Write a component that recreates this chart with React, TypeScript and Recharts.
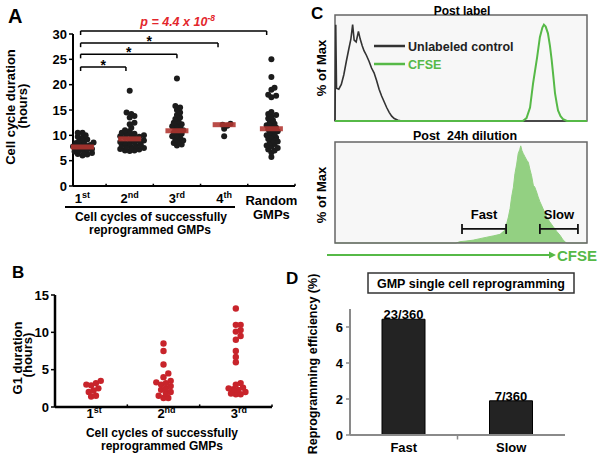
import React from 'react';
import {
  ScatterChart, Scatter, XAxis, YAxis, ReferenceLine, LineChart, Line,
  AreaChart, Area, BarChart, Bar, LabelList, CartesianGrid, ReferenceArea,
} from 'recharts';

const FONT = '"Liberation Sans", Arial, Helvetica, sans-serif';
const GREEN = '#56b947';
const GREEN_FILL = '#93d082';
const P_RED = '#e3262c';
const DOT_RED = '#c8242b';
const MEAN_RED = '#b0342f';
const DOT_BLACK = '#1c1c1c';
const AXIS_GRAY = '#8a8a8a';

// ---------------- Panel A: cell cycle duration (hours) ----------------
const cycleCategories = ['1st', '2nd', '3rd', '4th', 'Random GMPs'];
const cycle1st = [10.5, 10.5, 10.0, 9.7, 9.5, 9.2, 9.0, 8.8, 8.6, 8.5, 8.3, 8.1, 8.0, 7.8, 7.7, 7.5, 7.3, 7.2, 7.0, 6.8, 6.7, 6.5, 6.3, 6.2, 6.0];
const cycle2nd = [18.8, 14.5, 14.2, 13.8, 13.5, 12.5, 12.2, 11.5, 11.0, 10.8, 10.5, 10.3, 10.2, 10.0, 9.9, 9.8, 9.7, 9.5, 9.4, 9.2, 9.0, 8.9, 8.7, 8.6, 8.5, 8.4, 8.2, 8.0, 7.9, 7.8, 7.6, 7.5, 7.3, 7.2, 7.0, 7.0, 6.9];
const cycle3rd = [21.2, 15.8, 15.5, 15.0, 14.5, 14.0, 13.5, 13.2, 12.8, 12.5, 12.2, 12.0, 11.8, 11.5, 11.2, 11.0, 10.8, 10.5, 10.3, 10.0, 9.8, 9.5, 9.2, 9.0, 8.7, 8.5, 8.2, 8.0];
const cycle4th = [12.3, 12.1, 11.9, 11.3, 9.8];
const cycleRandom = [25.0, 21.5, 19.4, 19.0, 18.0, 17.8, 17.5, 14.6, 14.2, 14.0, 13.7, 13.3, 13.0, 12.6, 12.3, 12.0, 11.8, 11.5, 11.2, 11.0, 10.8, 10.5, 10.2, 10.0, 9.8, 9.5, 9.3, 9.0, 8.8, 8.5, 8.3, 8.0, 7.8, 7.5, 7.2, 7.0, 6.6, 5.7];
const cycleMeans = [7.7, 9.3, 10.9, 12.1, 11.3];
const cycleTicks = [0, 5, 10, 15, 20, 25, 30];
const cycleBoundaries = [1.5, 2.5, 3.5, 4.5, 5.5];
const bracketFrom = 0.96;
const bracketTo = [1.92, 3.0, 3.87, 4.9];
const bracketLevel = [23.5, 26.0, 28.2, 30.6];
const bracketMarks = ['*', '*', '*', 'p'];
const pValueBase = 'p = 4.4 x 10';
const pValueExp = '-8';

// ---------------- Panel B: G1 duration (hours) ----------------
const g1Categories = ['1st', '2nd', '3rd'];
const g1First = [3.5, 3.2, 3.0, 2.9, 2.5, 2.2, 2.0, 1.5, 1.4];
const g1Second = [8.5, 7.5, 5.7, 4.5, 4.0, 3.5, 3.3, 3.2, 3.0, 2.8, 2.5, 2.3, 2.0, 1.8, 1.5, 1.2, 1.2];
const g1Third = [13.2, 11.0, 11.0, 10.3, 10.1, 9.5, 9.0, 7.5, 6.7, 6.0, 3.2, 3.0, 2.6, 2.5, 2.4, 2.3, 2.0, 1.8, 1.7, 1.7];
const g1Ticks = [0, 5, 10, 15];
const g1Boundaries = [1.5, 2.5, 3.5];

// ---------------- Panel C: CFSE histograms ----------------
const ctrlChannel = [0, 0.3, 0.6, 1.5, 2.5, 3.5, 4.5, 5.5, 6.3, 7.0, 7.6, 8.4, 9.3, 10.0, 10.8, 11.5, 12.5, 13.5, 14.5, 15.5, 16.5, 17.5, 18.5, 19.5, 20.5, 21.5, 22.5, 23.5, 25.0, 26.5, 100];
const ctrlPercent = [0, 100, 34, 33, 38, 48, 62, 75, 85, 100, 84, 82, 93, 85, 78, 73, 68, 62, 55, 50, 42, 33, 26, 20, 14, 9, 5, 2.5, 0.8, 0, 0];
const cfseChannel = [0, 74.5, 76.0, 77.4, 78.6, 80.2, 81.3, 82.3, 82.9, 83.6, 84.5, 85.3, 86.0, 86.7, 87.3, 88.0, 88.5, 89.5, 90.5, 92.0, 100];
const cfsePercent = [0, 0, 3, 14, 39, 66, 87, 97, 100, 98, 91, 78, 63, 45, 29, 18, 11, 5, 2, 0, 0];
const dilChannel = [0, 48, 49.6, 52, 54.9, 57.5, 60.2, 63, 65.5, 67.5, 68.8, 69.5, 70.1, 70.8, 71.4, 72.1, 72.7, 73.3, 73.7, 74.2, 74.7, 75.3, 76.1, 76.7, 77.4, 78.0, 78.7, 79.3, 80.0, 80.6, 81.3, 82.5, 84.0, 85.2, 86.6, 88.0, 89.3, 90.3, 91.3, 92.0, 100];
const dilPercent = [0, 0, 1.4, 2, 3, 4.5, 6, 7.5, 9, 13.5, 27, 36, 48, 58, 72, 82, 93, 97, 101, 96, 93, 90, 86, 84, 76, 70, 60, 58, 53, 48, 43, 36, 27, 22, 17, 12, 8, 4, 1, 0, 0];
const histTicks = [0, 5, 10, 15, 20, 25, 30, 35, 40, 45, 50, 55, 60, 65, 70, 75, 80, 85, 90, 95, 100, 105];
const gateNames = ['Fast', 'Slow'];
const gateFrom = [50.4, 81.3];
const gateTo = [67.9, 96.4];
const gateLevel = 14.6;
const legendNames = ['Unlabeled control', 'CFSE'];

// ---------------- Panel D: reprogramming efficiency ----------------
const effCategories = ['Fast', 'Slow'];
const effValues = [6.43, 1.9];
const effLabels = ['23/360', '7/360'];
const effTicks = [0, 2, 4, 6];
const effBoundaries = [0.5, 1.5, 2.5];

// ---------- layout ----------
const A = { w: 300, h: 240, m: { top: 34, right: 5, bottom: 44, left: 43 }, yw: 30, xh: 10, xd: [0.853, 5.5] as [number, number] };
const B = { w: 300, h: 219, m: { top: 55, right: 28, bottom: 42, left: 30 }, yw: 25, xh: 10, xd: [0.5, 3.5] as [number, number] };

// deterministic beeswarm layout (dot collision avoidance in pixel space)
function swarm(values: number[], center: number, pxX: number, pxY: number, minDist: number, step: number) {
  const placed: { dx: number; py: number }[] = [];
  return values.slice().sort((a, b) => a - b).map((v) => {
    const py = v * pxY;
    let dx = 0;
    for (let k = 0; k < 80; k++) {
      const cand = k === 0 ? 0 : (k % 2 === 1 ? 1 : -1) * Math.ceil(k / 2) * step;
      if (placed.every((p) => Math.hypot(p.dx - cand, p.py - py) >= minDist)) { dx = cand; break; }
    }
    placed.push({ dx, py });
    return { x: center + dx / pxX, y: v };
  });
}

const aPxY = (A.h - A.m.top - A.m.bottom - A.xh) / 30;
const aPxX = (A.w - A.m.left - A.m.right - A.yw) / (A.xd[1] - A.xd[0]);
const cycleSeries = [cycle1st, cycle2nd, cycle3rd, cycle4th, cycleRandom].map((vals, i) => swarm(vals, i + 1, aPxX, aPxY, 3.6, 1.6));
const cycleMeanData = cycleMeans.map((y, i) => ({ x: i + 1, y }));

const bPxY = (B.h - B.m.top - B.m.bottom - B.xh) / 15;
const bPxX = (B.w - B.m.left - B.m.right - B.yw) / (B.xd[1] - B.xd[0]);
const g1Series = [g1First, g1Second, g1Third].map((vals, i) => swarm(vals, i + 1, bPxX, bPxY, 4.6, 2.4));

const ctrlData = ctrlChannel.map((x, i) => ({ x, y: ctrlPercent[i] }));
const cfseData = cfseChannel.map((x, i) => ({ x, y: cfsePercent[i] }));
const dilData = dilChannel.map((x, i) => ({ x, y: dilPercent[i] }));
const effData = effCategories.map((name, i) => ({ name, value: effValues[i], label: effLabels[i] }));

const ordinalRe = /^(\d+)(st|nd|rd|th)$/;

function CategoryLabel({ x, y, text }: { x: number; y: number; text: string }) {
  const m = text.match(ordinalRe);
  if (m) {
    return (
      <text x={x} y={y} textAnchor="middle" fontSize={13} fontWeight={700} fill="#000">
        <tspan>{m[1]}</tspan>
        <tspan dy={-5} fontSize={9}>{m[2]}</tspan>
      </text>
    );
  }
  const words = text.split(' ');
  return (
    <text x={x} y={y + 2} textAnchor="middle" fontSize={13} fontWeight={700} fill="#000">
      {words.map((w, i) => (
        <tspan key={i} x={x} dy={i === 0 ? 0 : 14}>{w}</tspan>
      ))}
    </text>
  );
}

const CycleTick = (props: any) => {
  const { x, y, payload } = props;
  return <CategoryLabel x={x} y={y + 17} text={cycleCategories[payload.value - 1]} />;
};

const G1Tick = (props: any) => {
  const { x, y, payload } = props;
  return <CategoryLabel x={x + 3} y={y + 11} text={g1Categories[payload.value - 1]} />;
};

const bracketLabel = (i: number) => (props: any) => {
  const vb = props.viewBox || {};
  const cx = (vb.x || 0) + (vb.width || 0) / 2;
  const y = vb.y || 0;
  if (bracketMarks[i] === 'p') {
    return (
      <text x={cx + 4} y={y - 5} textAnchor="middle" fill={P_RED} fontSize={12.5} fontWeight={700} fontStyle="italic">
        <tspan>{pValueBase}</tspan>
        <tspan dy={-5} fontSize={8.5}>{pValueExp}</tspan>
      </text>
    );
  }
  return (
    <text x={cx} y={y + 3} textAnchor="middle" fill="#000" fontSize={14} fontWeight={700}>{bracketMarks[i]}</text>
  );
};

const gateLabel = (i: number) => (props: any) => {
  const vb = props.viewBox || {};
  const cx = (vb.x || 0) + (vb.width || 0) / 2;
  return (
    <text x={cx} y={(vb.y || 0) - 9.5} textAnchor="middle" fill="#000" fontSize={13} fontWeight={700}>{gateNames[i]}</text>
  );
};

const dotShape = (fill: string, r: number) => (p: any) => <circle cx={p.cx} cy={p.cy} r={r} fill={fill} />;
const meanShape = (p: any) => (
  <rect x={p.cx - 11.5} y={p.cy - 2.5} width={23} height={5} fill={MEAN_RED} fillOpacity={0.88} />
);

const boldTick = { fill: '#000', fontSize: 13, fontWeight: 700 };

export default function App() {
  return (
    <div style={{ position: 'absolute', left: 0, top: 0, width: 601, height: 459, background: '#fff', overflow: 'hidden', fontFamily: FONT }}>
      {/* Panel A */}
      <div style={{ position: 'absolute', left: 0, top: 0 }}>
        <ScatterChart width={A.w} height={A.h} margin={A.m}>
          <XAxis type="number" dataKey="x" domain={A.xd} ticks={[1, 2, 3, 4, 5]} interval={0} height={A.xh}
            axisLine={{ stroke: '#000', strokeWidth: 2 }} tickLine={false} tickSize={0} tickMargin={0} tick={<CycleTick />} />
          <YAxis type="number" dataKey="y" domain={[0, 30]} ticks={cycleTicks} interval={0} width={A.yw}
            axisLine={{ stroke: '#000', strokeWidth: 2 }} tickLine={{ stroke: '#000', strokeWidth: 1.5 }} tickSize={4} tickMargin={2} tick={boldTick} />
          {cycleBoundaries.map((b) => (
            <ReferenceLine key={'cb' + b} segment={[{ x: b, y: 0 }, { x: b, y: 0.45 }]} stroke="#000" strokeWidth={1.5} ifOverflow="visible" />
          ))}
          {bracketTo.map((to, i) => (
            <ReferenceLine key={'bh' + i} segment={[{ x: bracketFrom, y: bracketLevel[i] }, { x: to, y: bracketLevel[i] }]}
              stroke="#000" strokeWidth={1.5} ifOverflow="visible" label={bracketLabel(i)} />
          ))}
          {bracketTo.map((to, i) => (
            <ReferenceLine key={'bl' + i} segment={[{ x: bracketFrom, y: bracketLevel[i] }, { x: bracketFrom, y: bracketLevel[i] - 0.8 }]}
              stroke="#000" strokeWidth={1.5} ifOverflow="visible" />
          ))}
          {bracketTo.map((to, i) => (
            <ReferenceLine key={'br' + i} segment={[{ x: to, y: bracketLevel[i] }, { x: to, y: bracketLevel[i] - 0.8 }]}
              stroke="#000" strokeWidth={1.5} ifOverflow="visible" />
          ))}
          {cycleSeries.map((s, i) => (
            <Scatter key={'cs' + i} data={s} fill={DOT_BLACK} shape={dotShape(DOT_BLACK, 3)} isAnimationActive={false} />
          ))}
          <Scatter data={cycleMeanData} fill={MEAN_RED} shape={meanShape} isAnimationActive={false} />
        </ScatterChart>
      </div>

      {/* Panel B */}
      <div style={{ position: 'absolute', left: 0, top: 240 }}>
        <ScatterChart width={B.w} height={B.h} margin={B.m}>
          <XAxis type="number" dataKey="x" domain={B.xd} ticks={[1, 2, 3]} interval={0} height={B.xh}
            axisLine={{ stroke: '#000', strokeWidth: 2.5 }} tickLine={false} tickSize={0} tickMargin={0} tick={<G1Tick />} />
          <YAxis type="number" dataKey="y" domain={[0, 15]} ticks={g1Ticks} interval={0} width={B.yw}
            axisLine={{ stroke: '#000', strokeWidth: 2.5 }} tickLine={{ stroke: '#000', strokeWidth: 1.5 }} tickSize={4} tickMargin={2} tick={boldTick} />
          {g1Boundaries.map((b) => (
            <ReferenceLine key={'gb' + b} segment={[{ x: b, y: 0 }, { x: b, y: 0.35 }]} stroke="#000" strokeWidth={1.5} ifOverflow="visible" />
          ))}
          {g1Series.map((s, i) => (
            <Scatter key={'gs' + i} data={s} fill={DOT_RED} shape={dotShape(DOT_RED, 3.2)} isAnimationActive={false} />
          ))}
        </ScatterChart>
      </div>

      {/* Panel C top */}
      <div style={{ position: 'absolute', left: 300, top: 0 }}>
        <LineChart width={301} height={130} margin={{ top: 15, right: 14, bottom: 9, left: 30 }}>
          <CartesianGrid horizontal={false} vertical={false} fill="#f7f7f7" />
          <XAxis type="number" dataKey="x" domain={[0, 100]} hide />
          <YAxis type="number" dataKey="y" domain={[0, 110]} ticks={histTicks} interval={0} width={5}
            axisLine={false} tickLine={{ stroke: '#777' }} tickSize={2.5} tick={false} />
          <Line data={ctrlData} dataKey="y" type="linear" stroke="#333" strokeWidth={1.6} dot={false} isAnimationActive={false} name={legendNames[0]} />
          <Line data={cfseData} dataKey="y" type="linear" stroke={GREEN} strokeWidth={2} dot={false} isAnimationActive={false} name={legendNames[1]} />
          <ReferenceArea x1={0} x2={100} y1={0} y2={110} fill="none" stroke="#666" strokeWidth={1.5} ifOverflow="visible" />
        </LineChart>
      </div>

      {/* Panel C bottom */}
      <div style={{ position: 'absolute', left: 300, top: 130 }}>
        <AreaChart width={301} height={120} margin={{ top: 12, right: 14, bottom: 7, left: 30 }}>
          <CartesianGrid horizontal={false} vertical={false} fill="#f7f7f7" />
          <XAxis type="number" dataKey="x" domain={[0, 100]} hide />
          <YAxis type="number" dataKey="y" domain={[0, 105]} ticks={histTicks} interval={0} width={5}
            axisLine={false} tickLine={{ stroke: '#777' }} tickSize={2.5} tick={false} />
          <Area data={dilData} dataKey="y" type="linear" stroke={GREEN_FILL} fill={GREEN_FILL} fillOpacity={1} isAnimationActive={false} />
          <ReferenceArea x1={0} x2={100} y1={0} y2={105} fill="none" stroke="#666" strokeWidth={1.5} ifOverflow="visible" />
          {gateFrom.map((f, i) => (
            <ReferenceLine key={'gh' + i} segment={[{ x: f, y: gateLevel }, { x: gateTo[i], y: gateLevel }]} stroke="#111" strokeWidth={1.8} ifOverflow="visible" label={gateLabel(i)} />
          ))}
          {gateFrom.map((f, i) => (
            <ReferenceLine key={'gl' + i} segment={[{ x: f, y: gateLevel - 5.2 }, { x: f, y: gateLevel + 5.2 }]} stroke="#111" strokeWidth={1.8} ifOverflow="visible" />
          ))}
          {gateTo.map((t, i) => (
            <ReferenceLine key={'gr' + i} segment={[{ x: t, y: gateLevel - 5.2 }, { x: t, y: gateLevel + 5.2 }]} stroke="#111" strokeWidth={1.8} ifOverflow="visible" />
          ))}
        </AreaChart>
      </div>

      {/* Panel D */}
      <div style={{ position: 'absolute', left: 300, top: 300 }}>
        <BarChart width={301} height={159} data={effData} margin={{ top: 9, right: 36, bottom: 4, left: 30 }}>
          <XAxis dataKey="name" height={20} axisLine={{ stroke: AXIS_GRAY, strokeWidth: 2 }} tickLine={false} tick={boldTick} />
          <XAxis xAxisId="edge" type="number" domain={[0.5, 2.5]} hide />
          <YAxis type="number" domain={[0, 7]} ticks={effTicks} interval={0} width={20}
            axisLine={{ stroke: AXIS_GRAY, strokeWidth: 2 }} tickLine={{ stroke: AXIS_GRAY, strokeWidth: 1.5 }} tickSize={4} tickMargin={3} tick={boldTick} />
          {effBoundaries.map((b) => (
            <ReferenceLine key={'eb' + b} xAxisId="edge" segment={[{ x: b, y: 0 }, { x: b, y: -0.25 }]} stroke={AXIS_GRAY} strokeWidth={1.5} ifOverflow="visible" />
          ))}
          <Bar dataKey="value" barSize={43} fill="#232323" stroke="#000" strokeWidth={1} isAnimationActive={false}>
            <LabelList dataKey="label" position="top" offset={0} fill="#000" fontSize={13} fontWeight={700} />
          </Bar>
        </BarChart>
      </div>

      {/* Annotations */}
      <svg width={601} height={459} style={{ position: 'absolute', left: 0, top: 0, pointerEvents: 'none' }}>
        <g fontWeight={700} fill="#000">
          {/* A */}
          <text x={8} y={23} fontSize={20}>A</text>
          <text transform="translate(14.5,107) rotate(-90)" textAnchor="middle" fontSize={13}>Cell cycle duration</text>
          <text transform="translate(27,106) rotate(-90)" textAnchor="middle" fontSize={13}>(hours)</text>
          <line x1={65} x2={235} y1={207} y2={207} stroke="#000" strokeWidth={2} />
          <text x={151} y={221} textAnchor="middle" fontSize={12}>Cell cycles of successfully</text>
          <text x={150} y={234} textAnchor="middle" fontSize={12}>reprogrammed GMPs</text>

          {/* B */}
          <text x={12} y={278} fontSize={17}>B</text>
          <text transform="translate(22,358) rotate(-90)" textAnchor="middle" fontSize={13}>G1 duration</text>
          <text transform="translate(32,355) rotate(-90)" textAnchor="middle" fontSize={13}>(hours)</text>
          <text x={162} y={437} textAnchor="middle" fontSize={12}>Cell cycles of successfully</text>
          <text x={162} y={450} textAnchor="middle" fontSize={12}>reprogrammed GMPs</text>

          {/* C */}
          <text x={311} y={19} fontSize={17}>C</text>
          <text x={462} y={15} textAnchor="middle" fontSize={12}>Post label</text>
          <text transform="translate(326,68) rotate(-90)" textAnchor="middle" fontSize={13}>% of Max</text>
          <line x1={374} x2={405} y1={46} y2={46} stroke="#333" strokeWidth={2.5} />
          <text x={408} y={51} fontSize={12.5} fill="#222">{legendNames[0]}</text>
          <line x1={374} x2={405} y1={64} y2={64} stroke={GREEN} strokeWidth={2.5} />
          <text x={408} y={69} fontSize={12.5} fill={GREEN}>{legendNames[1]}</text>
          <text x={465} y={140} textAnchor="middle" fontSize={12.5} style={{ whiteSpace: 'pre' }}>{'Post  24h dilution'}</text>
          <text transform="translate(326,195) rotate(-90)" textAnchor="middle" fontSize={13}>% of Max</text>
          <line x1={327} x2={550} y1={255} y2={255} stroke={GREEN} strokeWidth={2} />
          <polygon points="549,251.5 556,255 549,258.5" fill={GREEN} />
          <text x={557} y={261} fontSize={15} fill={GREEN}>CFSE</text>

          {/* D */}
          <text x={286} y={284} fontSize={17}>D</text>
          <rect x={368} y={273} width={206} height={20} fill="#fff" stroke="#333" strokeWidth={1.5} />
          <text x={471} y={288} textAnchor="middle" fontSize={12.5}>GMP single cell reprogramming</text>
          <text transform="translate(317,364) rotate(-90)" textAnchor="middle" fontSize={12.5}>Reprogramming efficiency (%)</text>
        </g>
      </svg>
    </div>
  );
}
